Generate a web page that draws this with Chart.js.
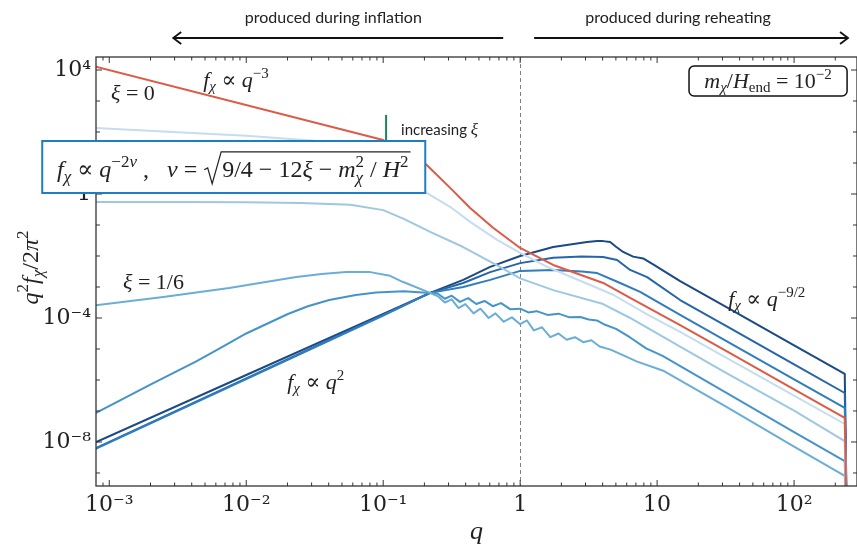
<!DOCTYPE html>
<html>
<head>
<meta charset="utf-8">
<script src="https://cdn.jsdelivr.net/npm/chart.js@4.4.1/dist/chart.umd.min.js"></script>
<style>
  html, body { margin: 0; padding: 0; background: #fff; }
</style>
</head>
<body>
<canvas id="chart" width="857" height="546"></canvas>
<script>
// values (q, q^2 f / 2pi^2)
const qRed = [7.943e-4, 0.1, 0.1413, 0.2061, 0.3162, 0.4315, 0.631, 1, 1.742, 4.036, 6.353, 14.72, 31.62, 100, 234.4, 245.5];
const yRed = [1.288e4, 54.95, 28.18, 8.913, 1.413, 0.3548, 0.0832, 0.0182, 5.13e-3, 1.349e-3, 4.467e-4, 5.888e-5, 8.79e-6, 5.01e-7, 6.026e-8, 1e-12];

const qLightest = [7.943e-4, 3.162e-3, 0.01, 0.03162, 0.0631, 0.1, 0.1413, 0.2089, 0.3162, 0.4315, 0.6792, 1, 1.574, 2.742, 4.775, 8.453, 14.72, 31.62, 100, 234.4, 245.5];
const yLightest = [134.9, 97.7, 75.86, 52.48, 31.62, 13.18, 4.169, 1.072, 0.3548, 0.1259, 0.03311, 0.01259, 4.467e-3, 1.585e-3, 5.623e-4, 1.318e-4, 3.548e-5, 5.37e-6, 3.12e-7, 3.802e-8, 1e-12];

const qLight = [7.943e-4, 3.162e-3, 0.01, 0.02512, 0.05754, 0.1, 0.1413, 0.2203, 0.3837, 0.6792, 1, 1.742, 4.036, 6.353, 14.72, 31.62, 100, 234.4, 245.5];
const yLight = [0.5495, 0.5495, 0.537, 0.5129, 0.4467, 0.302, 0.1585, 0.06026, 0.0195, 5.012e-3, 1.905e-3, 7.943e-4, 2.818e-4, 1e-4, 1.202e-5, 1.73e-6, 1.023e-7, 1.072e-8, 1e-12];

const qSixth = [7.943e-4, 2.477e-3, 7.516e-3, 0.02317, 0.03548, 0.0537, 0.08035, 0.1122, 0.14, 0.2203, 0.2512, 0.2818, 0.3162, 0.3548, 0.3981, 0.4571, 0.5129, 0.5888, 0.6607, 0.7586, 0.871, 1, 1.122, 1.259, 1.445, 1.66, 1.905, 2.188, 2.512, 2.884, 3.311, 3.802, 4.571, 5.623, 7.079, 11.07, 31.62, 100, 234.4, 245.5];
const ySixth = [2.57e-4, 4.786e-4, 9.333e-4, 2.089e-3, 2.63e-3, 3.02e-3, 3.02e-3, 2.29e-3, 1.445e-3, 6.457e-4, 5.012e-4, 3.162e-4, 3.981e-4, 2.089e-4, 2.818e-4, 1.413e-4, 1.995e-4, 1e-4, 1.413e-4, 7.586e-5, 1.047e-4, 6.31e-5, 8.318e-5, 3.981e-5, 5.012e-5, 2.399e-5, 3.162e-5, 1.995e-5, 2.399e-5, 1.66e-5, 1.905e-5, 1.202e-5, 9.55e-6, 6.31e-6, 3.981e-6, 1.995e-6, 1.413e-7, 7.079e-9, 8.128e-10, 1e-12];

const qMedium = [7.943e-4, 1.995e-3, 4.315e-3, 6.31e-3, 0.01, 0.01995, 0.02818, 0.04036, 0.0631, 0.08892, 0.1413, 0.2203, 0.2512, 0.2818, 0.3162, 0.3631, 0.4169, 0.4786, 0.5495, 0.631, 0.7244, 0.8511, 1, 1.148, 1.318, 1.585, 1.905, 2.291, 2.754, 3.162, 3.631, 4.169, 5.012, 6.31, 8.318, 10.96, 31.62, 100, 234.4, 245.5];
const yMedium = [8.511e-8, 7.079e-7, 3.981e-6, 1e-5, 3.162e-5, 1.318e-4, 2.399e-4, 3.802e-4, 5.495e-4, 6.607e-4, 7.244e-4, 6.457e-4, 6.026e-4, 4.169e-4, 5.248e-4, 3.311e-4, 4.365e-4, 2.818e-4, 3.548e-4, 2.399e-4, 3.02e-4, 1.905e-4, 1.995e-4, 1.514e-4, 1.66e-4, 1.259e-4, 1.38e-4, 1.047e-4, 1.072e-4, 8.913e-5, 8.318e-5, 6.026e-5, 4.467e-5, 2.399e-5, 1.047e-5, 6.026e-6, 3.981e-7, 2.089e-8, 2.399e-9, 1e-12];

const qBlue3 = [7.943e-4, 0.01, 0.1, 0.2203, 0.3837, 0.6039, 1, 1.742, 2.818, 3.648, 5.37, 7.516, 14.72, 31.62, 100, 234.4, 245.5];
const yBlue3 = [6.026e-9, 1.072e-6, 1.202e-4, 6.457e-4, 1e-3, 1.698e-3, 3.311e-3, 3.548e-3, 3.162e-3, 2.818e-3, 1.349e-3, 6.918e-4, 1.259e-4, 1.866e-5, 1.054e-6, 1.259e-7, 1e-12];

const qBlue2 = [7.943e-4, 0.01, 0.1, 0.2203, 0.3837, 0.6039, 1, 1.742, 2.818, 4.036, 5.105, 6.353, 8.453, 14.72, 31.62, 100, 234.4, 245.5];
const yBlue2 = [6.31e-9, 1.122e-6, 1.259e-4, 6.457e-4, 1.349e-3, 3.02e-3, 5.888e-3, 8.71e-3, 9.55e-3, 9.333e-3, 7.413e-3, 3.548e-3, 2.089e-3, 3.802e-4, 5.64e-5, 3.18e-6, 3.802e-7, 1e-12];

const qNavy = [7.943e-4, 0.01, 0.1, 0.2203, 0.3837, 0.6039, 1, 1.742, 3.083, 3.648, 4.036, 4.539, 5.012, 5.649, 6.683, 7.907, 9.354, 14.72, 31.62, 100, 234.4, 245.5];
const yNavy = [9.77e-9, 1.445e-6, 1.349e-4, 6.457e-4, 1.698e-3, 4.467e-3, 0.01, 0.0195, 0.02818, 0.0302, 0.0302, 0.02818, 0.01995, 0.01349, 9.55e-3, 8.318e-3, 5.37e-3, 1.549e-3, 2.31e-4, 1.318e-5, 1.585e-6, 1e-12];

// axes
const xMin = 8.0e-4, xMax = 288;
const yMin = 3.8e-10, yMax = 2.63e4;
const xTickValues = [1e-3, 1e-2, 1e-1, 1, 10, 100];
const xTickLabels = ['10⁻³', '10⁻²', '10⁻¹', '1', '10', '10²'];
const yTickValues = [1e-8, 1e-4, 1, 1e4];
const yTickLabels = ['10⁻⁸', '10⁻⁴', '1', '10⁴'];
const boundaryQ = 1;

const series = [
  { label: 'ξ = 0', q: qRed, y: yRed, color: '#dd5a45' },
  { label: 'ξ1', q: qLightest, y: yLightest, color: '#c6dcef' },
  { label: 'ξ2', q: qLight, y: yLight, color: '#9dc8e2' },
  { label: 'ξ = 1/6', q: qSixth, y: ySixth, color: '#6aaed6' },
  { label: 'ξ4', q: qMedium, y: yMedium, color: '#4594c9' },
  { label: 'ξ5', q: qBlue3, y: yBlue3, color: '#2f7dbd' },
  { label: 'ξ6', q: qBlue2, y: yBlue2, color: '#2565a8' },
  { label: 'ξ7', q: qNavy, y: yNavy, color: '#1a4a86' }
];

const MATH = '"Liberation Serif", "DejaVu Serif", serif';

function fontFor(st, size) {
  const it = st === 'i' || st === 'supi' || st === 'sub';
  const small = st === 'sup' || st === 'supi' || st === 'sub' || st === 'subr';
  return (it ? 'italic ' : '') + Math.round(small ? size * 0.7 : size) + 'px ' + MATH;
}
function shiftFor(st, size) {
  if (st === 'sup' || st === 'supi') return -size * 0.42;
  if (st === 'sub' || st === 'subr') return size * 0.2;
  return 0;
}
function measureParts(ctx, parts, size) {
  let w = 0;
  for (const p of parts) {
    if (p.sqrt) { w += size * 0.75 + measureParts(ctx, p.sqrt, size) + 3; continue; }
    ctx.font = fontFor(p.st, size);
    w += ctx.measureText(p.t).width;
    if (p.sup || p.sub) {
      ctx.font = fontFor('sup', size);
      const a = p.sup ? ctx.measureText(p.sup).width : 0;
      ctx.font = fontFor('sub', size);
      const b = p.sub ? ctx.measureText(p.sub).width : 0;
      w += Math.max(a, b);
    }
  }
  return w;
}
function drawParts(ctx, parts, x, y, size) {
  for (const p of parts) {
    if (p.sqrt) {
      const inner = measureParts(ctx, p.sqrt, size);
      const rw = size * 0.75;
      ctx.save();
      ctx.lineWidth = 1.2;
      ctx.beginPath();
      ctx.moveTo(x + 1, y - size * 0.3);
      ctx.lineTo(x + rw * 0.25, y - size * 0.38);
      ctx.lineTo(x + rw * 0.5, y + size * 0.28);
      ctx.lineTo(x + rw, y - size * 1.05);
      ctx.lineTo(x + rw + inner + 3, y - size * 1.05);
      ctx.stroke();
      ctx.restore();
      x = drawParts(ctx, p.sqrt, x + rw + 1, y, size) + 2;
      continue;
    }
    ctx.font = fontFor(p.st, size);
    ctx.fillText(p.t, x, y + shiftFor(p.st, size));
    x += ctx.measureText(p.t).width;
    if (p.sup || p.sub) {
      let w = 0;
      if (p.sup) { ctx.font = fontFor('sup', size); ctx.fillText(p.sup, x, y - size * 0.42); w = ctx.measureText(p.sup).width; }
      if (p.sub) { ctx.font = fontFor('sub', size); ctx.fillText(p.sub, x, y + size * 0.25); w = Math.max(w, ctx.measureText(p.sub).width); }
      x += w;
    }
  }
  return x;
}
function drawRich(ctx, parts, x, y, size, align) {
  const w = measureParts(ctx, parts, size);
  const x0 = align === 'center' ? x - w / 2 : x;
  drawParts(ctx, parts, x0, y, size);
  return w;
}

const fChi = [{ t: 'f', st: 'i' }, { t: 'χ', st: 'sub' }, { t: ' ∝ ', st: 'r' }, { t: 'q', st: 'i' }];
const notes = [
  { q: 1.03e-3, v: 1.07e3, size: 22, parts: [{ t: 'ξ', st: 'i' }, { t: ' = 0', st: 'r' }] },
  { q: 4.85e-3, v: 2.82e3, size: 22, parts: fChi.concat([{ t: '−3', st: 'sup' }]) },
  { q: 1.26e-3, v: 8.7e-4, size: 22, parts: [{ t: 'ξ', st: 'i' }, { t: ' = 1/6', st: 'r' }] },
  { q: 0.0199, v: 5.1e-7, size: 22, parts: fChi.concat([{ t: '2', st: 'sup' }]) },
  { q: 33.0, v: 2.45e-4, size: 22, parts: fChi.concat([{ t: '−9/2', st: 'sup' }]) }
];
const formula = fChi.concat([
  { t: '−2', st: 'sup' }, { t: 'ν', st: 'supi' }, { t: ' ,   ', st: 'r' }, { t: 'ν', st: 'i' }, { t: ' = ', st: 'r' },
  { sqrt: [{ t: '9/4 − 12', st: 'r' }, { t: 'ξ', st: 'i' }, { t: ' − ', st: 'r' }, { t: 'm', st: 'i', sup: '2', sub: 'χ' },
    { t: ' / ', st: 'r' }, { t: 'H', st: 'i' }, { t: '2', st: 'sup' }] }
]);
const massLabel = [{ t: 'm', st: 'i' }, { t: 'χ', st: 'sub' }, { t: '/', st: 'r' }, { t: 'H', st: 'i' }, { t: 'end', st: 'subr' }, { t: ' = 10', st: 'r' }, { t: '−2', st: 'sup' }];
const yTitle = [{ t: 'q', st: 'i' }, { t: '2', st: 'sup' }, { t: 'f', st: 'i' }, { t: 'χ', st: 'sub' }, { t: '/2', st: 'r' }, { t: 'π', st: 'i' }, { t: '2', st: 'sup' }];

function arrow(ctx, x1, x2, y) {
  const dir = x2 > x1 ? 1 : -1;
  ctx.beginPath();
  ctx.moveTo(x1, y); ctx.lineTo(x2, y);
  ctx.moveTo(x2 - dir * 8, y - 6); ctx.lineTo(x2, y); ctx.lineTo(x2 - dir * 8, y + 6);
  ctx.stroke();
}

const decor = {
  id: 'decor',
  beforeDatasetsDraw(chart) {
    const { ctx, chartArea: a, scales: { x } } = chart;
    const xd = Math.round(x.getPixelForValue(boundaryQ)) + 0.5;
    ctx.save();
    ctx.strokeStyle = '#808080';
    ctx.lineWidth = 1;
    ctx.setLineDash([4, 3]);
    ctx.beginPath(); ctx.moveTo(xd, a.top); ctx.lineTo(xd, a.bottom); ctx.stroke();
    ctx.restore();
  },
  afterDraw(chart) {
    const { ctx, chartArea: a, scales: { x, y } } = chart;
    ctx.save();
    // frame and inward ticks
    ctx.strokeStyle = '#333';
    ctx.lineWidth = 1.3;
    ctx.strokeRect(a.left, a.top, a.right - a.left, a.bottom - a.top);
    ctx.lineWidth = 1;
    ctx.beginPath();
    for (let e = -4; e <= 2; e++) {
      for (let m = 1; m <= 9; m++) {
        const v = m * Math.pow(10, e);
        const px = x.getPixelForValue(v);
        if (px <= a.left + 1 || px >= a.right - 1) continue;
        const len = m === 1 ? 6 : 3.5;
        ctx.moveTo(px, a.bottom); ctx.lineTo(px, a.bottom - len);
        ctx.moveTo(px, a.top); ctx.lineTo(px, a.top + len);
      }
    }
    for (let e = -9; e <= 4; e++) {
      const v = Math.pow(10, e);
      const py = y.getPixelForValue(v);
      if (py <= a.top || py >= a.bottom) continue;
      const len = e % 4 === 0 ? 6 : 4;
      ctx.moveTo(a.left, py); ctx.lineTo(a.left + len, py);
      ctx.moveTo(a.right, py); ctx.lineTo(a.right - len, py);
    }
    ctx.stroke();

    ctx.fillStyle = '#222';
    ctx.strokeStyle = '#222';
    ctx.textBaseline = 'alphabetic';
    ctx.textAlign = 'left';
    for (const n of notes) {
      drawRich(ctx, n.parts, x.getPixelForValue(n.q), y.getPixelForValue(n.v), n.size, 'left');
    }

    // increasing xi marker
    const gx = x.getPixelForValue(0.105);
    ctx.strokeStyle = '#14885a';
    ctx.lineWidth = 2;
    ctx.beginPath(); ctx.moveTo(gx, y.getPixelForValue(355)); ctx.lineTo(gx, y.getPixelForValue(51)); ctx.stroke();
    ctx.fillStyle = '#222';
    ctx.font = '15px Lato, "Open Sans", sans-serif';
    const ix = x.getPixelForValue(0.135), iy = y.getPixelForValue(79);
    ctx.fillText('increasing ', ix, iy);
    const iw = ctx.measureText('increasing ').width;
    ctx.font = 'italic 17px ' + MATH;
    ctx.fillText('ξ', ix + iw, iy);

    // formula box
    const bx1 = x.getPixelForValue(3.24e-4), bx2 = x.getPixelForValue(0.2028);
    const by1 = y.getPixelForValue(51.3), by2 = y.getPixelForValue(1.077);
    ctx.fillStyle = '#fff';
    ctx.fillRect(bx1, by1, bx2 - bx1, by2 - by1);
    ctx.strokeStyle = '#1f7ec2';
    ctx.lineWidth = 2;
    ctx.strokeRect(bx1, by1, bx2 - bx1, by2 - by1);
    ctx.fillStyle = '#222';
    ctx.strokeStyle = '#222';
    drawRich(ctx, formula, (bx1 + bx2) / 2, by2 - 16, 24, 'center');

    // mass box
    const mx1 = x.getPixelForValue(17.1), mx2 = x.getPixelForValue(243.8);
    const my1 = y.getPixelForValue(1.35e4), my2 = y.getPixelForValue(1.45e3);
    ctx.fillStyle = '#fff';
    ctx.beginPath();
    ctx.roundRect(mx1, my1, mx2 - mx1, my2 - my1, 5);
    ctx.fill();
    ctx.strokeStyle = '#111';
    ctx.lineWidth = 1.5;
    ctx.stroke();
    ctx.fillStyle = '#222';
    drawRich(ctx, massLabel, (mx1 + mx2) / 2, my2 - 8, 22, 'center');

    // production arrows above the frame
    ctx.strokeStyle = '#111';
    ctx.lineWidth = 1.8;
    const ay = a.top - 19;
    arrow(ctx, x.getPixelForValue(0.7516), x.getPixelForValue(2.93e-3), ay);
    arrow(ctx, x.getPixelForValue(1.265), x.getPixelForValue(247.7), ay);
    ctx.fillStyle = '#222';
    ctx.font = '16px Lato, "Open Sans", sans-serif';
    ctx.textAlign = 'center';
    ctx.textBaseline = 'middle';
    ctx.fillText('produced during inflation', x.getPixelForValue(0.0432), a.top - 39);
    ctx.fillText('produced during reheating', x.getPixelForValue(14.2), a.top - 39);

    // y axis title
    ctx.textAlign = 'left';
    ctx.textBaseline = 'alphabetic';
    ctx.translate(38, (a.top + a.bottom) / 2 - 4);
    ctx.rotate(-Math.PI / 2);
    drawRich(ctx, yTitle, 0, 0, 24, 'center');
    ctx.restore();
  }
};

new Chart(document.getElementById('chart'), {
  type: 'line',
  data: {
    datasets: series.map((s) => ({
      label: s.label,
      data: s.q.map((q, i) => ({ x: q, y: s.y[i] })),
      borderColor: s.color,
      borderWidth: 2,
      borderJoinStyle: 'round',
      pointRadius: 0,
      fill: false,
      tension: 0
    }))
  },
  options: {
    responsive: false,
    animation: false,
    devicePixelRatio: 1,
    layout: { padding: { top: 57, right: 0, bottom: 0, left: 0 } },
    plugins: { legend: { display: false }, tooltip: { enabled: false } },
    scales: {
      x: {
        type: 'logarithmic',
        min: xMin,
        max: xMax,
        afterBuildTicks: (s) => { s.ticks = xTickValues.map((v) => ({ value: v })); },
        afterFit: (s) => { s.height = 60; },
        grid: { display: false, drawTicks: false },
        border: { display: false },
        ticks: {
          autoSkip: false,
          maxRotation: 0,
          padding: 6,
          color: '#222',
          font: { family: 'DejaVu Serif', size: 22 },
          callback: (v, i) => xTickLabels[i]
        },
        title: {
          display: true,
          text: 'q',
          color: '#222',
          font: { family: 'Liberation Serif', style: 'italic', size: 26, lineHeight: 1 },
          padding: { top: 0, bottom: 1 }
        }
      },
      y: {
        type: 'logarithmic',
        min: yMin,
        max: yMax,
        afterBuildTicks: (s) => { s.ticks = yTickValues.map((v) => ({ value: v })); },
        afterFit: (s) => { s.width = 96; },
        grid: { display: false, drawTicks: false },
        border: { display: false },
        ticks: {
          autoSkip: false,
          padding: 5,
          color: '#222',
          font: { family: 'DejaVu Serif', size: 22 },
          callback: (v, i) => yTickLabels[i]
        }
      }
    }
  },
  plugins: [decor]
});
</script>
</body>
</html>
